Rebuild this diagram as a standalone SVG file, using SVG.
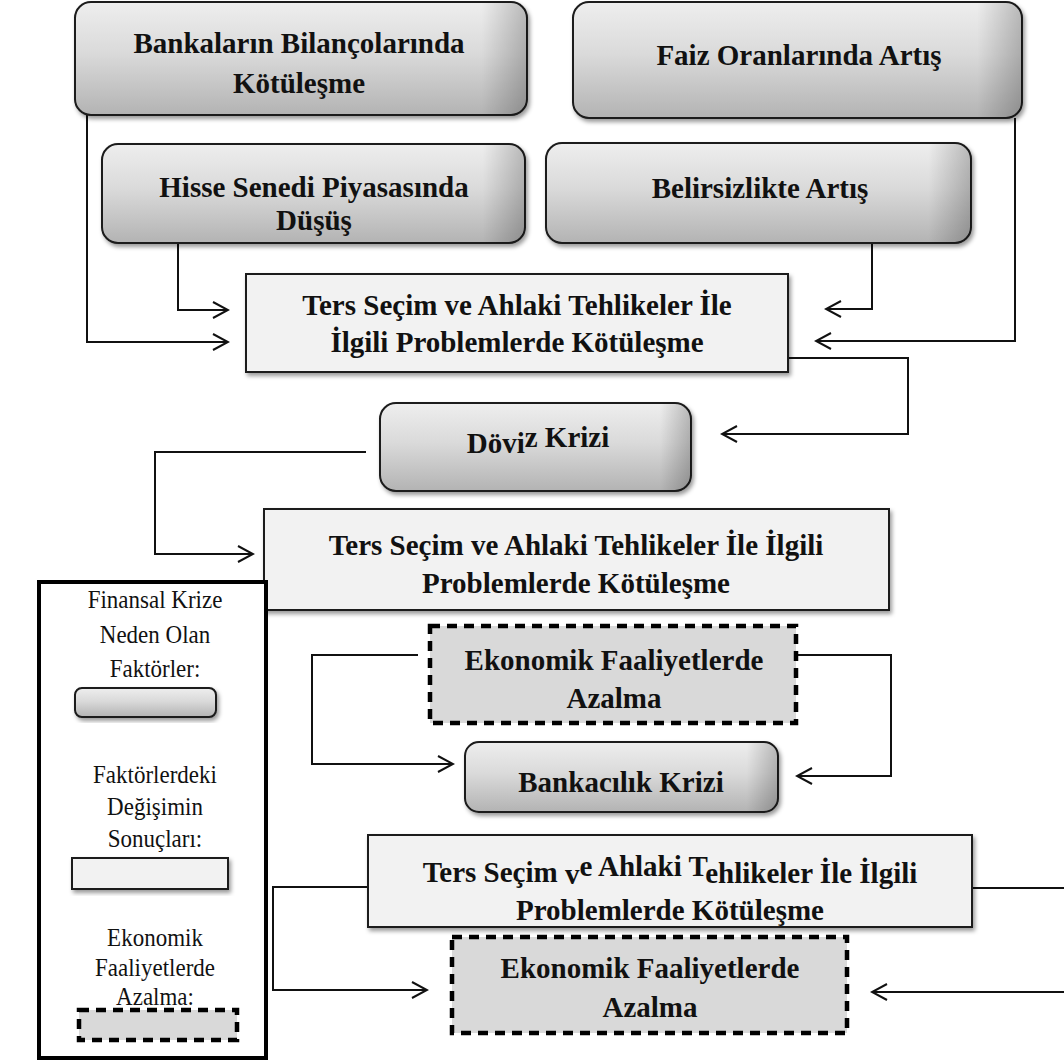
<svg xmlns="http://www.w3.org/2000/svg" width="1064" height="1062" viewBox="0 0 1064 1062">
<defs>
<linearGradient id="gf" x1="0" y1="0" x2="0" y2="1">
<stop offset="0" stop-color="#eeeeee"/>
<stop offset="0.45" stop-color="#dadada"/>
<stop offset="1" stop-color="#b3b3b3"/>
</linearGradient>
<linearGradient id="gr" x1="0" y1="0" x2="1" y2="0">
<stop offset="0.9" stop-color="#000" stop-opacity="0"/>
<stop offset="1" stop-color="#000" stop-opacity="0.22"/>
</linearGradient>
<filter id="sh" x="-5%" y="-10%" width="112%" height="130%">
<feDropShadow dx="2" dy="3" stdDeviation="2" flood-color="#000" flood-opacity="0.4"/>
</filter>
<marker id="ar" markerUnits="userSpaceOnUse" viewBox="0 0 20 20" refX="18" refY="10" markerWidth="20" markerHeight="20" orient="auto">
<path d="M3,2 L18,10 L3,18" fill="none" stroke="#111" stroke-width="2"/>
</marker>
</defs>
<style>
.fac{fill:url(#gf);stroke:#1a1a1a;stroke-width:2;filter:url(#sh)}
.res{fill:#f2f2f2;stroke:#1a1a1a;stroke-width:2;filter:url(#sh)}
.eco{fill:#d9d9d9;stroke:#000;stroke-width:4.5;stroke-dasharray:10 7}
.t{font-family:"Liberation Serif","Times New Roman",serif;font-weight:bold;font-size:29px;fill:#111;text-anchor:middle}
.lt{font-family:"Liberation Serif","Times New Roman",serif;font-size:23px;fill:#111;text-anchor:middle}
.c{fill:none;stroke:#111;stroke-width:2;marker-end:url(#ar)}
</style>
<rect width="1064" height="1062" fill="#fff"/>

<g id="connectors">
<path class="c" d="M87,115 V342 H228"/>
<path class="c" d="M178,243 V310 H228"/>
<path class="c" d="M872,243 V309 H826"/>
<path class="c" d="M1015,118 V341 H816"/>
<path class="c" d="M788,358 H908 V434 H722"/>
<path class="c" d="M366,452 H155 V554 H253"/>
<path class="c" d="M418,655 H312 V764 H453"/>
<path class="c" d="M796,655 H891 V776 H797"/>
<path class="c" d="M368,887 H273 V990 H427"/>
<path class="c" d="M972,888 H1070 V992 H872"/>
</g>

<g id="n-bankalarin">
<rect class="fac" x="75" y="2" width="452" height="113" rx="16"/>
<rect x="75" y="2" width="452" height="113" rx="16" fill="url(#gr)"/>
<text class="t" x="299" y="53">Bankaların Bilançolarında</text>
<text class="t" x="299" y="93">Kötüleşme</text>
</g>
<g id="n-faiz">
<rect class="fac" x="573" y="2" width="449" height="116" rx="16"/>
<rect x="573" y="2" width="449" height="116" rx="16" fill="url(#gr)"/>
<text class="t" x="799" y="65">Faiz Oranlarında Artış</text>
</g>
<g id="n-hisse">
<rect class="fac" x="102" y="144" width="423" height="99" rx="16"/>
<rect x="102" y="144" width="423" height="99" rx="16" fill="url(#gr)"/>
<text class="t" x="314" y="197">Hisse Senedi Piyasasında</text>
<text class="t" x="314" y="230">Düşüş</text>
</g>
<g id="n-belirsizlik">
<rect class="fac" x="546" y="143" width="425" height="100" rx="16"/>
<rect x="546" y="143" width="425" height="100" rx="16" fill="url(#gr)"/>
<text class="t" x="760" y="198">Belirsizlikte Artış</text>
</g>
<g id="n-ters1">
<rect class="res" x="246" y="274" width="542" height="98"/>
<text class="t" x="517" y="315">Ters Seçim ve Ahlaki Tehlikeler İle</text>
<text class="t" x="517" y="352">İlgili Problemlerde Kötüleşme</text>
</g>
<g id="n-doviz">
<rect class="fac" x="380" y="403" width="311" height="88" rx="16"/>
<rect x="380" y="403" width="311" height="88" rx="16" fill="url(#gr)"/>
<text class="t" x="538" y="453">Dövi<tspan dy="-6">z Krizi</tspan></text>
</g>
<g id="n-ters2">
<rect class="res" x="264" y="509" width="625" height="101"/>
<text class="t" x="576" y="555">Ters Seçim ve Ahlaki Tehlikeler İle İlgili</text>
<text class="t" x="576" y="593">Problemlerde Kötüleşme</text>
</g>
<g id="n-ekonomik1">
<rect class="eco" x="430" y="626" width="366" height="97"/>
<text class="t" x="614" y="670">Ekonomik Faaliyetlerde</text>
<text class="t" x="614" y="708">Azalma</text>
</g>
<g id="n-bankacilik">
<rect class="fac" x="465" y="742" width="313" height="70" rx="14"/>
<rect x="465" y="742" width="313" height="70" rx="14" fill="url(#gr)"/>
<text class="t" x="621" y="792">Bankacılık Krizi</text>
</g>
<g id="n-ters3">
<rect class="res" x="368" y="835" width="604" height="92"/>
<text class="t" x="670" y="882">Ters Seçim <tspan dy="2">v</tspan><tspan dy="-8">e Ahlaki T</tspan><tspan dy="7">ehlikeler İle İlgili</tspan></text>
<text class="t" x="670" y="920">Problemlerde Kötüleşme</text>
</g>
<g id="n-ekonomik2">
<rect class="eco" x="452" y="937" width="395" height="96"/>
<text class="t" x="650" y="978">Ekonomik Faaliyetlerde</text>
<text class="t" x="650" y="1017">Azalma</text>
</g>

<g id="legend">
<rect x="39" y="582" width="227" height="476" fill="#fff" stroke="#000" stroke-width="4"/>
<text class="lt" transform="translate(155,608) scale(1,1.12)">Finansal Krize</text>
<text class="lt" transform="translate(155,643) scale(1,1.12)">Neden Olan</text>
<text class="lt" transform="translate(155,677) scale(1,1.12)">Faktörler:</text>
<rect class="fac" x="75" y="688" width="141" height="29" rx="7"/>
<text class="lt" transform="translate(155,783) scale(1,1.12)">Faktörlerdeki</text>
<text class="lt" transform="translate(155,815) scale(1,1.12)">Değişimin</text>
<text class="lt" transform="translate(155,847) scale(1,1.12)">Sonuçları:</text>
<rect class="res" x="72" y="858" width="156" height="31"/>
<text class="lt" transform="translate(155,946) scale(1,1.12)">Ekonomik</text>
<text class="lt" transform="translate(155,976) scale(1,1.12)">Faaliyetlerde</text>
<text class="lt" transform="translate(155,1005) scale(1,1.12)">Azalma:</text>
<rect class="eco" x="79" y="1010" width="158" height="30"/>
</g>
</svg>
